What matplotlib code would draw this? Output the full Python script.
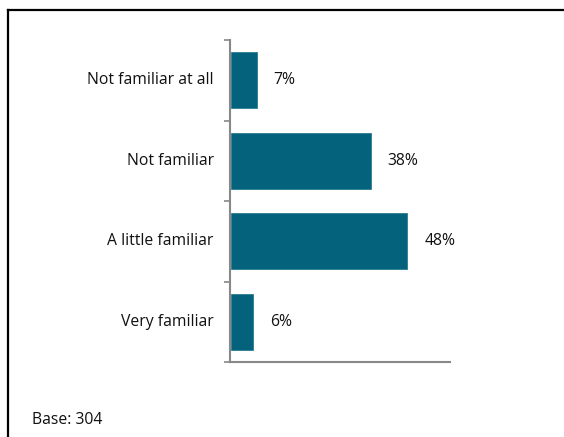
import matplotlib
matplotlib.use('Agg')
import matplotlib.pyplot as plt
from matplotlib.lines import Line2D

plt.rcParams['font.family'] = ['Open Sans', 'DejaVu Sans']

categories = ['Not familiar at all', 'Not familiar', 'A little familiar', 'Very familiar']
values = [7, 38, 48, 6]
base_n = 304
bar_color = '#05627C'

W, H = 564, 437
fig = plt.figure(figsize=(W / 100, H / 100), dpi=100)

# axes box in pixels: x 230..450, y 40..362
ax = fig.add_axes([230 / W, 1 - 362 / H, 220 / W, 322 / H])
pos = list(range(len(categories)))
ax.barh(pos, values, height=0.7, color=bar_color, edgecolor='#2a7d94', linewidth=0.6)
ax.set_ylim(len(categories) - 0.5, -0.5)
ax.set_xlim(-0.3, 59.6)

for p, v in zip(pos, values):
    ax.text(v + 4.6, p, f'{v}%', va='center', ha='left', fontsize=11.3, color='#111111')

ax.set_yticks([p - 0.5 for p in pos] + [len(categories) - 0.5])
ax.set_yticklabels([])
ax.tick_params(axis='y', length=4, width=1.2, color='#888888', direction='out')
ax.set_xticks([])
for p, c in zip(pos, categories):
    ax.text(-4.7, p, c, va='center', ha='right', fontsize=11.3, color='#111111')

for s in ['top', 'right']:
    ax.spines[s].set_visible(False)
for s in ['left', 'bottom']:
    ax.spines[s].set_color('#888888')
    ax.spines[s].set_linewidth(1.5)

# frame lines at top and left
fig.add_artist(Line2D([7.5 / W, 1], [1 - 9.5 / H, 1 - 9.5 / H], color='black', lw=1.6))
fig.add_artist(Line2D([7.5 / W, 7.5 / W], [0, 1 - 9.5 / H], color='black', lw=1.6))

fig.text(32 / W, 1 - 420 / H, f'Base: {base_n}', va='center', ha='left', fontsize=11.3, color='#111111')

fig.savefig('out.png', dpi=100)
